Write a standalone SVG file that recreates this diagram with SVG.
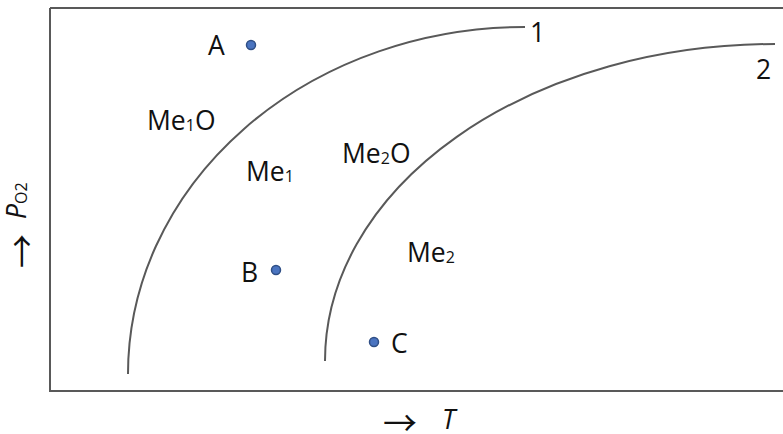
<svg xmlns="http://www.w3.org/2000/svg" width="783" height="434" viewBox="0 0 783 434">
<style>
.t{font-family:"Open Sans","Noto Sans",sans-serif;font-size:26.5px;fill:#111}
.s{font-size:16px}
.i{font-style:italic}
.ar{font-family:"Noto Sans CJK KR","Noto Sans CJK SC",sans-serif;font-size:34px;fill:#111}
.ln{fill:none;stroke:#595959;stroke-width:2}
.dot{fill:#4a74c0;stroke:#2f4f86;stroke-width:1.5}
</style>
<rect width="783" height="434" fill="#fff"/>
<g id="frame"><path class="ln" d="M50,8 H790 M50,8 V391 H790"/></g>
<g id="connectors">
<path id="curve1" class="ln" d="M128,374 A397,347 0 0 1 525,27"/>
<path id="curve2" class="ln" d="M325,361 A450,317 0 0 1 775,44"/>
</g>
<g id="label1"><text class="t" x="530" y="42">1</text></g>
<g id="label2"><text class="t" x="756" y="79">2</text></g>
<g id="pointA"><circle class="dot" cx="251" cy="45" r="4.5"/><text class="t" x="208" y="55">A</text></g>
<g id="pointB"><circle class="dot" cx="276" cy="270" r="4.5"/><text class="t" x="241" y="282">B</text></g>
<g id="pointC"><circle class="dot" cx="374" cy="342" r="4.5"/><text class="t" x="391" y="353">C</text></g>
<g id="me1o"><text class="t" x="147" y="130">Me<tspan class="s" dy="1">1</tspan><tspan dy="-1">O</tspan></text></g>
<g id="me1"><text class="t" x="246" y="181">Me<tspan class="s" dy="1">1</tspan></text></g>
<g id="me2o"><text class="t" x="342" y="163">Me<tspan class="s" dy="1">2</tspan><tspan dy="-1">O</tspan></text></g>
<g id="me2"><text class="t" x="407" y="262">Me<tspan class="s" dy="1">2</tspan></text></g>
<g id="xlabel"><text class="ar" x="383" y="421" dominant-baseline="central">→</text><text class="t i" x="442" y="429">T</text></g>
<g id="ylabel" transform="translate(26,268) rotate(-90)"><text class="ar" x="0" y="-6" dominant-baseline="central">→</text><text class="t" x="49" y="0"><tspan class="i">P</tspan><tspan class="s" dy="1">O2</tspan></text></g>
</svg>
